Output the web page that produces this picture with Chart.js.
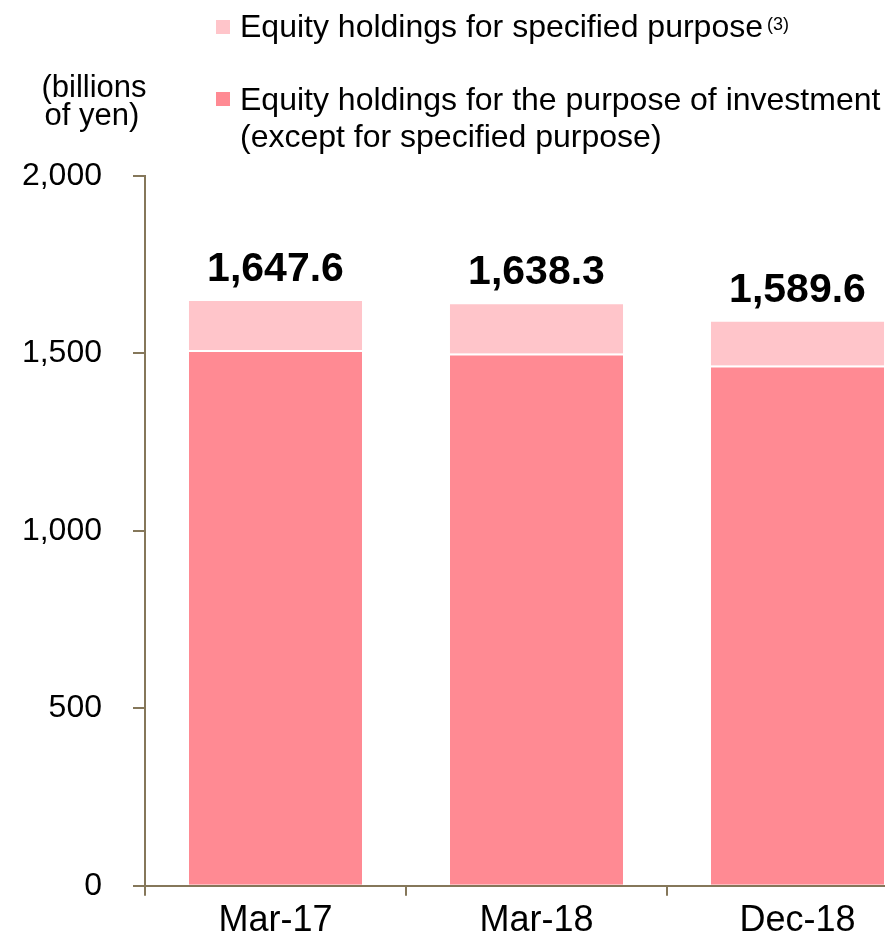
<!DOCTYPE html>
<html>
<head>
<meta charset="utf-8">
<script src="https://cdn.jsdelivr.net/npm/chart.js@4.4.1/dist/chart.umd.min.js"></script>
<style>
  html, body { margin: 0; padding: 0; background: #fff; overflow: hidden; }
  #wrap { width: 930px; height: 936px; }
</style>
</head>
<body>
<div id="wrap"><canvas id="chart" width="930" height="936"></canvas></div>
<script>
// chart data (billions of yen)
const categories = ['Mar-17', 'Mar-18', 'Dec-18'];
const investmentValues = [1510, 1500, 1466];
const specifiedValues = [137.6, 138.3, 123.6];
const totalLabels = ['1,647.6', '1,638.3', '1,589.6'];
const yTicks = [0, 500, 1000, 1500, 2000];

const FONT = '"Liberation Sans", Arial, sans-serif';
const AXIS_COLOR = '#85775a';
const LIGHT_PINK = '#ffc5ca';
const DARK_PINK = '#ff8a93';

// legend, unit label and the totals above the bars
const annotations = {
    id: 'annotations',
    afterDatasetsDraw(chart) {
        const ctx = chart.ctx;
        ctx.save();
        ctx.fillStyle = '#000';
        ctx.textBaseline = 'alphabetic';

        // totals
        ctx.font = 'bold 41px ' + FONT;
        ctx.textAlign = 'center';
        const topMeta = chart.getDatasetMeta(1);
        topMeta.data.forEach((bar, i) => {
            ctx.fillText(totalLabels[i], bar.x, bar.y - 20);
        });

        // unit label
        ctx.font = '31px ' + FONT;
        ctx.fillText('(billions', 94, 97);
        ctx.fillText('of yen)', 92, 125);

        // legend
        ctx.textAlign = 'left';
        ctx.fillStyle = LIGHT_PINK;
        ctx.fillRect(216, 20, 14, 14);
        ctx.fillStyle = DARK_PINK;
        ctx.fillRect(216, 92, 14, 14);

        ctx.fillStyle = '#000';
        ctx.font = '32px ' + FONT;
        ctx.fillText('Equity holdings for specified purpose', 240, 37);
        ctx.fillText('Equity holdings for the purpose of investment', 240, 110);
        ctx.fillText('(except for specified purpose)', 240, 147);
        ctx.font = '18px ' + FONT;
        ctx.fillText('(3)', 767, 30);
        ctx.restore();
    }
};

new Chart(document.getElementById('chart'), {
    type: 'bar',
    data: {
        labels: categories,
        datasets: [
            {
                label: 'Equity holdings for the purpose of investment (except for specified purpose)',
                data: investmentValues,
                backgroundColor: DARK_PINK,
                borderColor: '#ffffff',
                borderWidth: { top: 2, bottom: 0, left: 0, right: 0 },
                borderSkipped: false,
                inflateAmount: 0
            },
            {
                label: 'Equity holdings for specified purpose',
                data: specifiedValues,
                backgroundColor: LIGHT_PINK,
                borderWidth: 0,
                inflateAmount: 0
            }
        ]
    },
    options: {
        responsive: false,
        animation: false,
        devicePixelRatio: 1,
        barPercentage: 0.663,
        categoryPercentage: 1,
        layout: { padding: { top: 176, right: 2, left: 0, bottom: 0 } },
        plugins: {
            legend: { display: false },
            tooltip: { enabled: false }
        },
        scales: {
            x: {
                stacked: true,
                border: { display: true, color: AXIS_COLOR, width: 2 },
                grid: {
                    drawOnChartArea: false,
                    drawTicks: true,
                    tickLength: 10,
                    tickColor: AXIS_COLOR,
                    lineWidth: 2
                },
                ticks: {
                    color: '#000',
                    font: { family: FONT, size: 36 },
                    padding: 4
                },
                afterFit(scale) { scale.height = 49; }
            },
            y: {
                stacked: true,
                min: 0,
                max: 2000,
                border: { display: true, color: AXIS_COLOR, width: 2 },
                grid: {
                    drawOnChartArea: false,
                    drawTicks: true,
                    tickLength: 12,
                    tickColor: AXIS_COLOR,
                    lineWidth: 2
                },
                afterBuildTicks(scale) {
                    scale.ticks = yTicks.map(v => ({ value: v }));
                },
                ticks: {
                    color: '#000',
                    font: { family: FONT, size: 32 },
                    padding: 31,
                    callback: (v) => v.toLocaleString('en-US')
                },
                afterFit(scale) { scale.width = 145; }
            }
        }
    },
    plugins: [annotations]
});
</script>
</body>
</html>
